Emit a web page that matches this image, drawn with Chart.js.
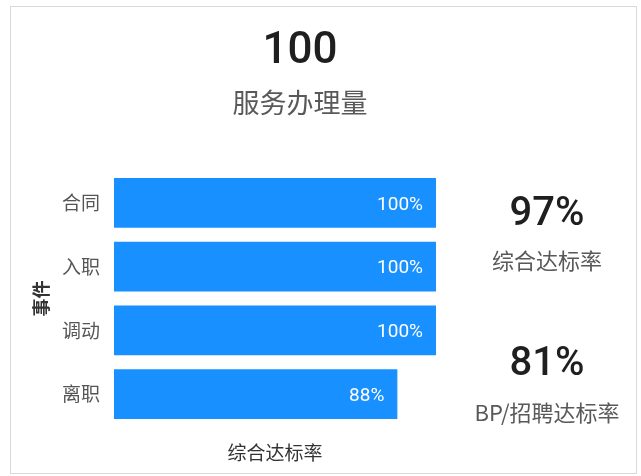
<!DOCTYPE html>
<html>
<head>
<meta charset="utf-8">
<script src="https://cdn.jsdelivr.net/npm/chart.js@4"></script>
<style>
  body { margin: 0; background: #fff; font-family: "Noto Sans CJK SC", "Noto Sans", sans-serif; }
  #box { position: absolute; left: 10px; top: 6px; width: 625px; height: 466px; border: 1px solid #d9d9d9; }
  #graph { position: absolute; left: 0; top: 0; }
  .num { position: absolute; text-align: center; color: #1f1f1f; font-family: Roboto, "Noto Sans", sans-serif; }
  .lbl { position: absolute; text-align: center; color: #595959; }
</style>
</head>
<body>
<div id="box"></div>
<canvas id="graph" width="641" height="476"></canvas>
<div class="num" style="left:200px;width:200px;top:22px;font-size:44px;font-weight:500;">100</div>
<div class="lbl" style="left:150px;width:300px;top:82px;font-size:27px;">服务办理量</div>
<div class="num" style="left:447px;width:200px;top:188px;font-size:40px;font-weight:500;">97%</div>
<div class="lbl" style="left:447px;width:200px;top:243px;font-size:22px;">综合达标率</div>
<div class="num" style="left:447px;width:200px;top:338px;font-size:40px;font-weight:500;">81%</div>
<div class="lbl" style="left:447px;width:200px;top:395px;font-size:22px;">BP/招聘达标率</div>
<script>
const categories = ["合同", "入职", "调动", "离职"];
const rates = [100, 100, 100, 88];

const barLabels = {
  id: "barLabels",
  afterDatasetsDraw(chart) {
    const ctx = chart.ctx;
    const meta = chart.getDatasetMeta(0);
    ctx.save();
    ctx.fillStyle = "#fff";
    ctx.font = '19px Roboto, "Noto Sans", sans-serif';
    ctx.textAlign = "right";
    ctx.textBaseline = "middle";
    meta.data.forEach((bar, i) => {
      ctx.fillText(rates[i] + "%", bar.x - 13, bar.y + 2);
    });
    ctx.restore();
  }
};

new Chart(document.getElementById("graph"), {
  type: "bar",
  data: {
    labels: categories,
    datasets: [{
      data: rates,
      backgroundColor: "#1890ff",
      categoryPercentage: 0.78,
      barPercentage: 1
    }]
  },
  options: {
    indexAxis: "y",
    responsive: false,
    animation: false,
    layout: { padding: { left: 26, top: 171, right: 205, bottom: 8 } },
    plugins: { legend: { display: false }, tooltip: { enabled: false } },
    scales: {
      x: {
        min: 0, max: 100,
        grid: { display: false, drawTicks: false },
        border: { display: false },
        ticks: { display: false },
        title: { display: true, text: "综合达标率", color: "#333", font: { size: 19, family: '"Noto Sans CJK SC"' } },
        afterFit(s) { s.height = 42; }
      },
      y: {
        grid: { display: false, drawTicks: false },
        border: { display: false },
        ticks: { color: "#555", padding: 14, font: { size: 19, family: '"Noto Sans CJK SC"' } },
        title: { display: true, text: "事件", color: "#333", font: { size: 18, weight: "bold", family: '"Noto Sans CJK SC"' } },
        afterFit(s) { s.width = 88; }
      }
    }
  },
  plugins: [barLabels]
});
</script>
</body>
</html>
